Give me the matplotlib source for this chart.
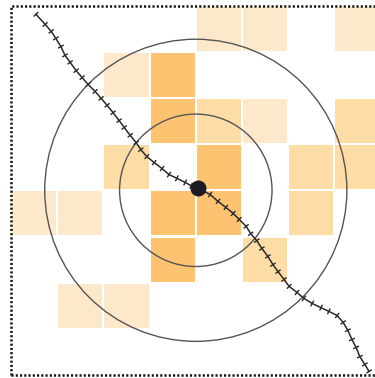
import matplotlib
matplotlib.use("Agg")
import matplotlib.pyplot as plt
import numpy as np
from matplotlib.collections import LineCollection
from matplotlib.patches import Circle, Rectangle

# grid cells (tile units): row, column, shade level (1 light .. 3 dark)
CELL_ROW = [0, 0, 0, 1, 1, 2, 2, 2, 2, 3, 3, 3, 3, 4, 4, 4, 4, 4, 5, 5, 6, 6]
CELL_COL = [4, 5, 7, 2, 3, 3, 4, 5, 7, 2, 4, 6, 7, 0, 1, 3, 4, 6, 3, 5, 1, 2]
CELL_LVL = [1, 1, 1, 1, 3, 3, 2, 1, 2, 2, 3, 2, 2, 1, 1, 3, 3, 2, 3, 2, 1, 1]
SHADES = {1: "#FEE8CC", 2: "#FDDCA6", 3: "#FDC371"}

# GPS-like track
TRACK_X = [0.54, 0.74, 0.87, 0.97, 1.08, 1.17, 1.28, 1.41, 1.54, 1.67, 1.82,
           1.95, 2.08, 2.21, 2.34, 2.45, 2.58, 2.71, 2.81, 2.94, 3.10, 3.27,
           3.42, 3.59, 3.77, 3.90, 4.05, 4.31, 4.48, 4.65, 4.81, 4.94, 5.09,
           5.19, 5.32, 5.43, 5.56, 5.67, 5.78, 5.91, 6.02, 6.19, 6.34, 6.52,
           6.71, 6.88, 7.06, 7.19, 7.29, 7.38, 7.47, 7.55, 7.66, 7.75]
TRACK_Y = [0.19, 0.41, 0.56, 0.71, 0.89, 1.08, 1.23, 1.41, 1.56, 1.71, 1.86,
           2.01, 2.16, 2.32, 2.49, 2.64, 2.81, 2.97, 3.12, 3.27, 3.40, 3.53,
           3.66, 3.74, 3.83, 3.90, 3.96, 4.09, 4.24, 4.37, 4.50, 4.63, 4.78,
           4.94, 5.09, 5.26, 5.43, 5.61, 5.76, 5.93, 6.08, 6.21, 6.34, 6.45,
           6.54, 6.62, 6.71, 6.86, 7.03, 7.23, 7.40, 7.60, 7.77, 7.92]

CENTER = (4.0, 4.0)
RADII = [1.65, 3.27]
POSITION = (4.05, 3.96)

W, H = 375, 378
unit = 46.2
fig = plt.figure(figsize=(W / 100, H / 100), dpi=100)
top = 5.5
ax = fig.add_axes([11 / W, (H - top - 8 * unit) / H, 8 * unit / W, 8 * unit / H])
ax.set_xlim(0, 8)
ax.set_ylim(8, 0)
ax.set_xticks([])
ax.set_yticks([])
for s in ax.spines.values():
    s.set_visible(False)

# dotted frame (left, top, bottom; right edge falls outside the picture)
frame = dict(color="#111", lw=1.8, dashes=(0.85, 0.85), dash_capstyle="butt",
             clip_on=False, zorder=6)
ax.plot([0, 0, 8], [8, 0, 0], **frame)
ax.plot([0, 8], [8, 8], **frame)

for r, c, lv in zip(CELL_ROW, CELL_COL, CELL_LVL):
    ax.add_patch(Rectangle((c + 0.022, r + 0.022), 0.956, 0.956,
                           facecolor=SHADES[lv], edgecolor="none", zorder=1))

for rad in RADII:
    ax.add_patch(Circle(CENTER, rad, fill=False, edgecolor="#555",
                        lw=1.0, zorder=3))

tx, ty = np.array(TRACK_X), np.array(TRACK_Y)
ax.plot(tx, ty, color="#2a2a2a", lw=1.1, zorder=4)
# perpendicular ticks along the track
dx = np.gradient(tx)
dy = np.gradient(ty)
n = np.hypot(dx, dy)
px, py = -dy / n * 0.07, dx / n * 0.07
segs = [[(x - a, y - b), (x + a, y + b)] for x, y, a, b in zip(tx, ty, px, py)]
ax.add_collection(LineCollection(segs, colors="#2a2a2a", linewidths=1.0,
                                 zorder=4))

ax.plot(*POSITION, "o", color="#1c1c24", ms=10.5, zorder=5)

fig.savefig("out.png", dpi=100)
